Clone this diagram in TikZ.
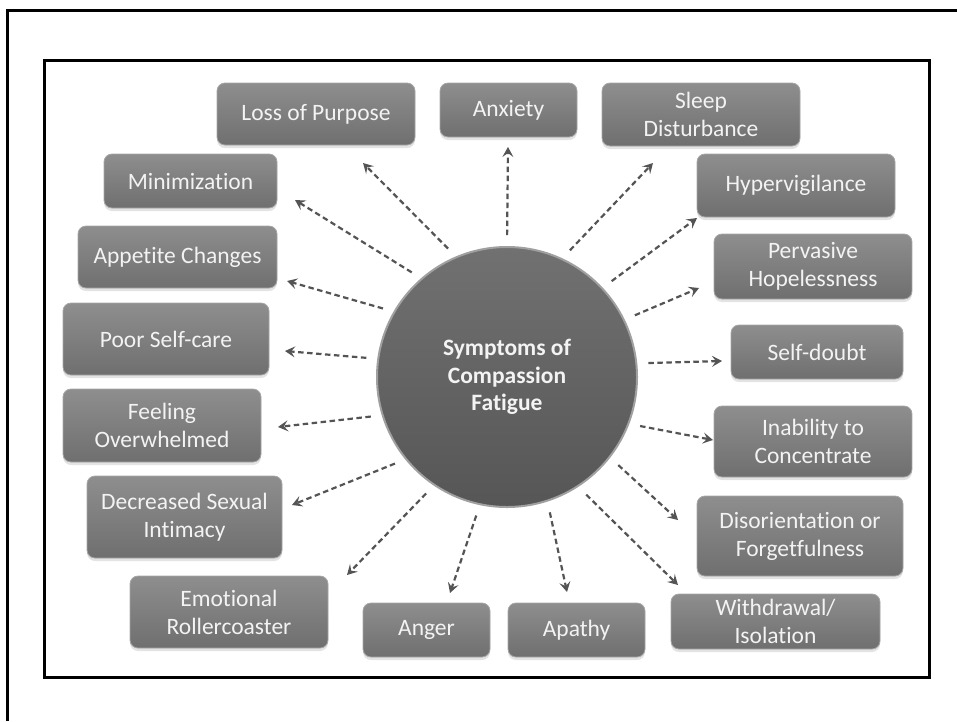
\documentclass[tikz,border=0pt]{standalone}
\usepackage{fontspec}
\setmainfont{Carlito}[Ligatures=NoCommon]
\usetikzlibrary{arrows.meta,shadows}

\definecolor{boxtop}{HTML}{8E8E8E}
\definecolor{boxbot}{HTML}{6F6F6F}
\definecolor{boxedge}{HTML}{A6A6A6}
\definecolor{hubtop}{HTML}{717171}
\definecolor{hubbot}{HTML}{565656}
\definecolor{hubedge}{HTML}{A0A0A0}
\definecolor{arrowgray}{HTML}{545454}
\definecolor{labelwhite}{HTML}{F3F3F3}

\begin{document}
\begin{tikzpicture}[x=1pt,y=-1pt,
  symptom/.style={draw=boxedge, line width=0.8pt, rounded corners=8pt,
    top color=boxtop, bottom color=boxbot, text=labelwhite,
    align=center, inner sep=0pt,
    font=\fontsize{23.5}{28}\selectfont,
    drop shadow={shadow xshift=0pt, shadow yshift=-3pt, opacity=0.22}},
  hubstyle/.style={circle, draw=hubedge, line width=2pt,
    top color=hubtop, bottom color=hubbot, text=labelwhite,
    minimum size=260pt, inner sep=0pt, align=center,
    font=\fontsize{23.5}{27.5}\selectfont\bfseries},
  link/.style={draw=arrowgray, line width=2.2pt, dash pattern=on 5.5pt off 3.5pt,
    -{Stealth[length=10pt,width=11pt,inset=4pt]}, shorten <=11pt},
  frame/.style={line width=3pt, line join=miter}
]
\useasboundingbox (0,0) rectangle (957,721);

% page border and inner frame
\draw[frame] (7.5,721) -- (7.5,10) -- (957,10);
\draw[frame] (44.5,60) rectangle (929.5,677.5);

% symptom boxes
\node[symptom, minimum width=198pt, minimum height=62pt] (loss) at (316,114) {Loss of Purpose};
\node[symptom, minimum width=137pt, minimum height=54pt] (anx) at (508.5,110) {Anxiety};
\node[symptom, minimum width=198pt, minimum height=63pt] (sleep) at (701,114.5) {Sleep\\Disturbance};
\node[symptom, minimum width=173pt, minimum height=54pt] (mini) at (190.5,181) {Minimization};
\node[symptom, minimum width=198pt, minimum height=63pt] (hyper) at (796,185.5) {Hypervigilance};
\node[symptom, minimum width=199pt, minimum height=62pt] (appetite) at (177.5,257) {Appetite Changes};
\node[symptom, minimum width=198pt, minimum height=65pt] (perv) at (813,266.5) {Pervasive\\Hopelessness};
\node[symptom, minimum width=206pt, minimum height=72pt] (poor) at (166,339) {Poor Self-care};
\node[symptom, minimum width=172pt, minimum height=54pt] (doubt) at (817,352) {Self-doubt};
\node[symptom, minimum width=198pt, minimum height=73pt] (over) at (162,425.5) {Feeling\\Overwhelmed};
\node[symptom, minimum width=198pt, minimum height=71pt] (conc) at (813,441.5) {Inability to\\Concentrate};
\node[symptom, minimum width=195pt, minimum height=82pt] (intim) at (184.5,517) {Decreased Sexual\\Intimacy};
\node[symptom, minimum width=206pt, minimum height=80pt] (disor) at (800,536) {Disorientation or\\Forgetfulness};
\node[symptom, minimum width=198pt, minimum height=72pt] (emo) at (229,612) {Emotional\\Rollercoaster};
\node[symptom, minimum width=127pt, minimum height=54pt] (anger) at (426.5,630) {Anger};
\node[symptom, minimum width=137pt, minimum height=54pt] (apathy) at (576.5,630) {Apathy};
\node[symptom, minimum width=209pt, minimum height=55pt] (withd) at (775.5,621.5) {Withdrawal/\\Isolation};

% central circle
\node[hubstyle] (hub) at (507,377) {Symptoms of\\Compassion\\Fatigue};

% arrow tips beside each box
\coordinate (loss-in) at (363,163);
\coordinate (anx-in) at (508,147);
\coordinate (sleep-in) at (653,163);
\coordinate (mini-in) at (295,200);
\coordinate (hyper-in) at (697,218);
\coordinate (appetite-in) at (287,281);
\coordinate (perv-in) at (699,288);
\coordinate (poor-in) at (285,351);
\coordinate (doubt-in) at (722,361);
\coordinate (over-in) at (278,427);
\coordinate (conc-in) at (713,440);
\coordinate (intim-in) at (292,505);
\coordinate (disor-in) at (678,520);
\coordinate (emo-in) at (347,575);
\coordinate (anger-in) at (450,593);
\coordinate (apathy-in) at (567,592);
\coordinate (withd-in) at (678,585);

% dashed arrows from the circle
\draw[link] (hub.113.8) -- (loss-in);
\draw[link] (hub.90) -- (anx-in);
\draw[link] (hub.65.5) -- (sleep-in);
\draw[link] (hub.131.6) -- (mini-in);
\draw[link] (hub.43.3) -- (hyper-in);
\draw[link] (hub.150.5) -- (appetite-in);
\draw[link] (hub.26.8) -- (perv-in);
\draw[link] (hub.172) -- (poor-in);
\draw[link] (hub.6.6) -- (doubt-in);
\draw[link] (hub.197.7) -- (over-in);
\draw[link] (hub.-21.4) -- (conc-in);
\draw[link] (hub.219.1) -- (intim-in);
\draw[link] (hub.-38.5) -- (disor-in);
\draw[link] (hub.236.7) -- (emo-in);
\draw[link] (hub.258.1) -- (anger-in);
\draw[link] (hub.-72.3) -- (apathy-in);
\draw[link] (hub.-57) -- (withd-in);
\end{tikzpicture}
\end{document}
